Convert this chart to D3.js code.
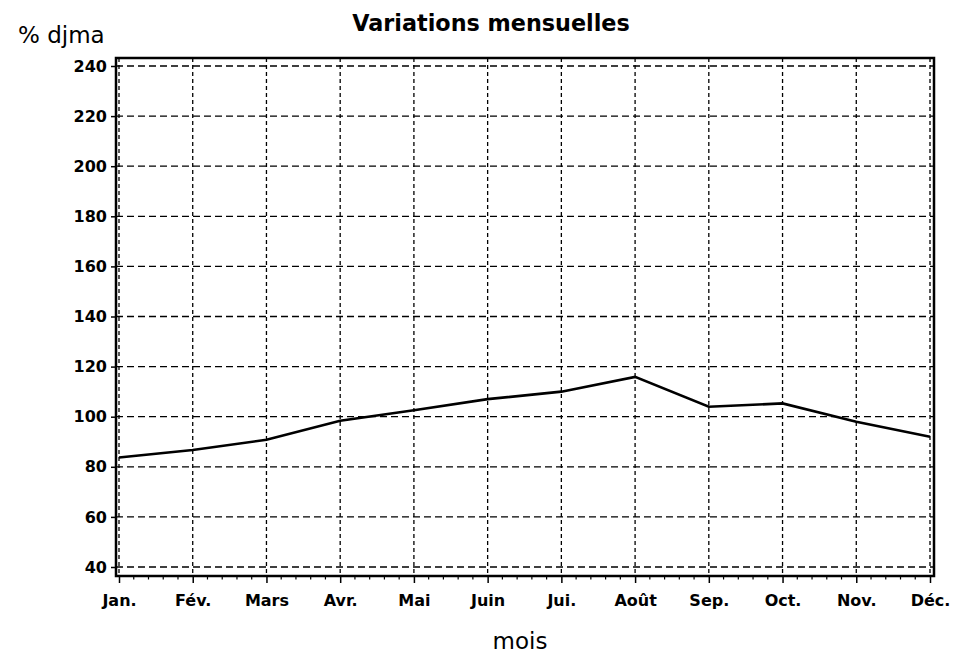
<!DOCTYPE html>
<html><head><meta charset="utf-8">
<script src="https://cdn.jsdelivr.net/npm/d3@7"></script>
<style>body{margin:0;background:#fff}svg{display:block}</style>
</head><body><svg id="c" width="962" height="658"></svg>
<script>
const months = ["Jan.","Fév.","Mars","Avr.","Mai","Juin","Jui.","Août","Sep.","Oct.","Nov.","Déc."];
const values = [83.7, 86.7, 90.8, 98.4, 102.6, 107.0, 110.0, 115.9, 104.0, 105.3, 98.0, 92.0];
const yTicks = [40,60,80,100,120,140,160,180,200,220,240];

const FONT = "'DejaVu Sans', sans-serif";
const svg = d3.select("#c");
const x = d3.scalePoint().domain(months).range([119, 930]);
const y = d3.scaleLinear().domain([40, 240]).range([567, 66]);
const frame = {l:116, r:934, t:58, b:576};

// grid
const g = svg.append("g");
g.selectAll("line.h").data(yTicks).join("line")
  .attr("x1", frame.l).attr("x2", frame.r)
  .attr("y1", d=>y(d)).attr("y2", d=>y(d))
  .attr("stroke","#000").attr("stroke-width",1.3).attr("stroke-dasharray","7,4");
g.selectAll("line.v").data(months).join("line")
  .attr("x1", d=>x(d)).attr("x2", d=>x(d))
  .attr("y1", frame.t).attr("y2", frame.b)
  .attr("stroke","#000").attr("stroke-width",1.3).attr("stroke-dasharray","4,3");

// frame
svg.append("rect").attr("x",frame.l).attr("y",frame.t)
  .attr("width",frame.r-frame.l).attr("height",frame.b-frame.t)
  .attr("fill","none").attr("stroke","#000").attr("stroke-width",2.5);

// y axis
const ya = svg.append("g").attr("transform",`translate(${frame.l},0)`)
  .call(d3.axisLeft(y).tickValues(yTicks).tickSize(5).tickPadding(4));
ya.select(".domain").remove();
ya.selectAll("line").attr("stroke-width",1.5);
ya.selectAll("text").attr("font-family",FONT).attr("font-size",16).attr("font-weight","bold").attr("fill","#000");

// x axis
const xa = svg.append("g").attr("transform",`translate(0,${frame.b})`)
  .call(d3.axisBottom(x).tickSize(7).tickPadding(12));
xa.select(".domain").remove();
xa.selectAll("line").attr("stroke-width",1.5);
xa.selectAll("text").attr("font-family",FONT).attr("font-size",16).attr("font-weight","bold").attr("fill","#000");
// minor ticks
const minor = [];
for (let i=0;i<months.length-1;i++){
  const a=x(months[i]), b=x(months[i+1]);
  for(let k=1;k<5;k++) minor.push(a+(b-a)*k/5);
}
svg.append("g").selectAll("line").data(minor).join("line")
  .attr("x1",d=>d).attr("x2",d=>d).attr("y1",frame.b).attr("y2",frame.b+3.5)
  .attr("stroke","#000").attr("stroke-width",1.2);

// line
svg.append("path").datum(values)
  .attr("d", d3.line().x((d,i)=>x(months[i])).y(d=>y(d)))
  .attr("fill","none").attr("stroke","#000").attr("stroke-width",2.6);

// texts
svg.append("text").attr("x",491).attr("y",31).attr("text-anchor","middle")
  .attr("font-family",FONT).attr("font-size",22.3).attr("font-weight","bold").text("Variations mensuelles");
svg.append("text").attr("x",18).attr("y",43).attr("font-family",FONT).attr("font-size",23).text("% djma");
svg.append("text").attr("x",520).attr("y",649).attr("text-anchor","middle")
  .attr("font-family",FONT).attr("font-size",23).text("mois");
</script></body></html>
